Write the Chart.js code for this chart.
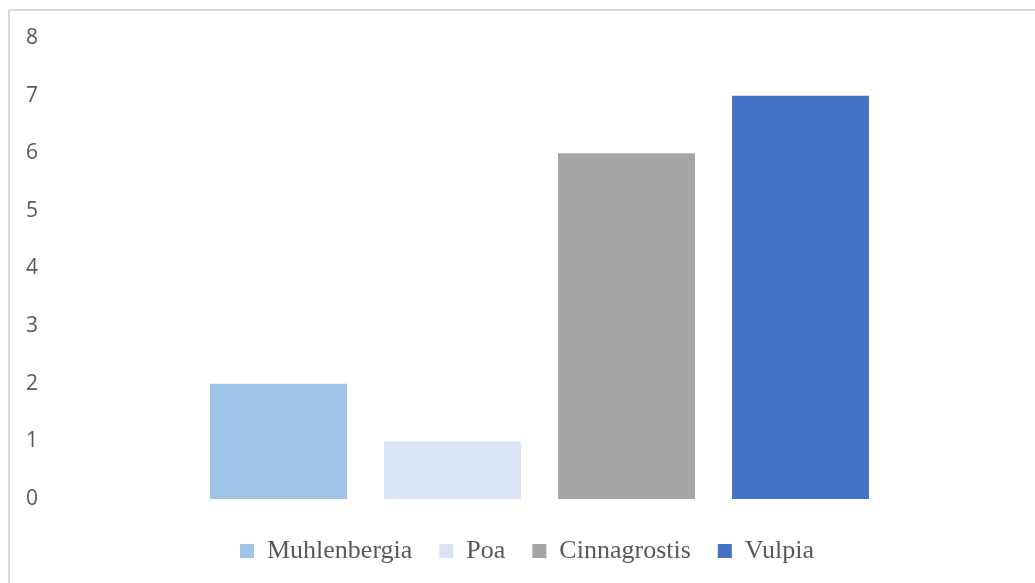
<!DOCTYPE html>
<html>
<head>
<meta charset="utf-8">
<script src="https://cdn.jsdelivr.net/npm/chart.js@4"></script>
<style>
  html, body { margin: 0; padding: 0; background: #fff; overflow: hidden; }
  #wrap { position: relative; width: 1035px; height: 583px; }
  #frame { position: absolute; left: 8px; top: 9px; width: 1100px; height: 700px; border: 2px solid #d9d9d9; box-sizing: border-box; }
  #chart { position: absolute; left: 0; top: 0; }
</style>
</head>
<body>
<div id="wrap">
  <div id="frame"></div>
  <canvas id="chart" width="1035" height="583"></canvas>
</div>
<script>
// one category, one bar per genus
const categories = ['']
const genera = ['Muhlenbergia', 'Poa', 'Cinnagrostis', 'Vulpia']
const counts = [2, 1, 6, 7]
const colors = ['#9dc3e6', '#dae3f3', '#a5a5a5', '#4472c4']
const yTicks = [0, 1, 2, 3, 4, 5, 6, 7, 8]

window.addEventListener('load', function () {
  const ctx = document.getElementById('chart')
  new Chart(ctx, {
    type: 'bar',
    data: {
      labels: categories,
      datasets: genera.map((name, i) => {
        return {
          label: name,
          data: [counts[i]],
          backgroundColor: colors[i],
          borderWidth: 0,
          categoryPercentage: 0.711,
          barPercentage: 0.787
        }
      })
    },
    options: {
      responsive: false,
      animation: false,
      layout: {
        padding: { left: 25, right: 6, top: 38, bottom: 9 }
      },
      plugins: {
        tooltip: { enabled: false },
        legend: {
          position: 'bottom',
          labels: {
            boxWidth: 14,
            boxHeight: 14,
            padding: 27,
            color: '#595959',
            font: { family: '"Liberation Serif", "Times New Roman", serif', size: 26 }
          }
        }
      },
      scales: {
        x: {
          display: true,
          grid: { display: false, drawTicks: false },
          border: { display: false },
          ticks: { display: false },
          afterFit: (s) => { s.height = 12 }
        },
        y: {
          min: yTicks[0],
          max: yTicks[yTicks.length - 1],
          afterBuildTicks: (s) => { s.ticks = yTicks.map((v) => ({ value: v })) },
          grid: { display: false, drawTicks: false },
          border: { display: false },
          ticks: {
            padding: 12,
            color: '#595959',
            font: { family: '"Open Sans", sans-serif', size: 21 }
          },
          afterFit: (s) => { s.width = 25 }
        }
      }
    }
  })
})
</script>
</body>
</html>
